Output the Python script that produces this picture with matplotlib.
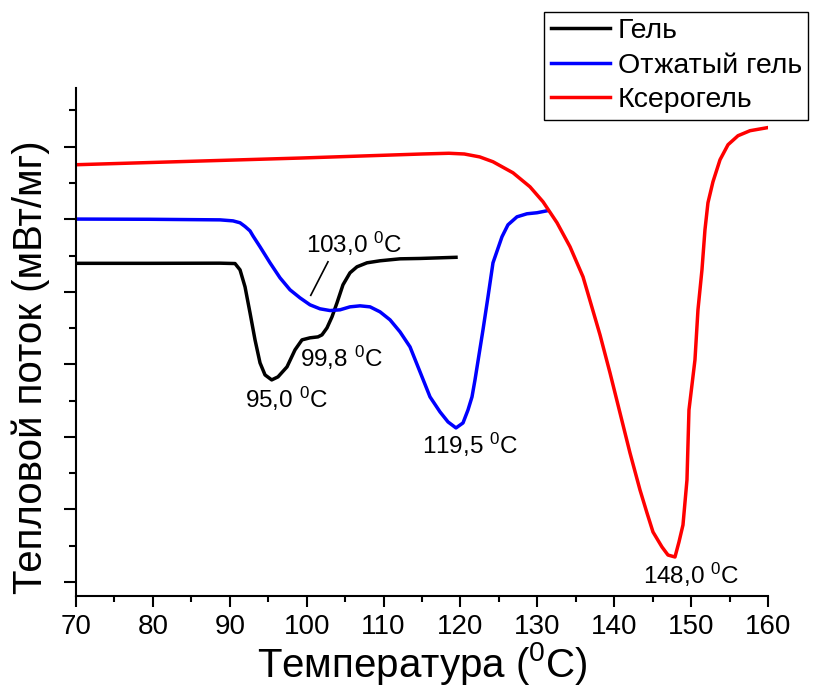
import numpy as np
import matplotlib.pyplot as plt
from matplotlib.ticker import MultipleLocator, NullFormatter

plt.rcParams['font.family'] = ['Liberation Sans', 'DejaVu Sans']
plt.rcParams['mathtext.fontset'] = 'custom'
plt.rcParams['mathtext.rm'] = 'Liberation Sans'
plt.rcParams['mathtext.it'] = 'Liberation Sans'
plt.rcParams['mathtext.default'] = 'rm'

# Гель
gel_x = [70.00, 79.62, 88.73, 90.68, 91.33, 91.98, 92.63, 93.28, 93.93, 94.58,
         95.45, 96.27, 97.44, 98.48, 99.39, 100.43, 101.47, 101.99, 102.64,
         103.29, 103.94, 104.72, 105.63, 106.54, 107.84, 109.54, 112.14, 114.74,
         119.42]
gel_y = [4.393, 4.393, 4.395, 4.390, 4.303, 4.069, 3.710, 3.338, 3.021, 2.855,
         2.786, 2.828, 2.966, 3.200, 3.338, 3.366, 3.379, 3.407, 3.503,
         3.655, 3.848, 4.097, 4.262, 4.345, 4.400, 4.428, 4.455, 4.460,
         4.476]

# Отжатый гель
pressed_x = [70.00, 79.62, 88.73, 90.42, 91.33, 91.98, 92.63, 93.02, 93.93, 95.23,
             96.53, 97.83, 99.13, 100.43, 101.73, 103.03, 104.33, 105.63, 106.94,
             108.24, 109.54, 110.84, 112.14, 113.44, 114.74, 116.04, 117.34,
             118.38, 119.42, 120.33, 120.98, 121.50, 121.89, 122.93, 123.58,
             124.23, 125.40, 126.18, 127.35, 128.65, 129.95, 131.25]
pressed_y = [5.003, 5.000, 4.992, 4.978, 4.952, 4.901, 4.840, 4.770, 4.621, 4.400,
             4.193, 4.028, 3.917, 3.821, 3.766, 3.742, 3.752, 3.793, 3.807,
             3.793, 3.724, 3.614, 3.448, 3.241, 2.897, 2.552, 2.345,
             2.207, 2.124, 2.193, 2.372, 2.552, 2.786, 3.476, 3.931,
             4.400, 4.759, 4.924, 5.034, 5.076, 5.090, 5.117]

# Ксерогель
xero_x = [70.00, 99.13, 110.19, 115.0, 118.5, 120.5, 122.5, 124.23, 126.83, 129.04,
          130.74, 132.56, 134.25, 135.94, 136.59, 138.15, 139.45, 140.75, 142.05,
          143.35, 144.26, 145.04, 146.21, 146.99, 147.90, 148.42, 148.94, 149.46,
          149.72, 150.50, 150.89, 151.41, 151.80, 152.19, 152.84, 153.76, 154.80,
          156.10, 157.66, 159.87]
xero_y = [5.752, 5.844, 5.883, 5.900, 5.910, 5.900, 5.860, 5.793, 5.641, 5.448,
          5.241, 4.952, 4.621, 4.207, 3.972, 3.407, 2.883, 2.331, 1.779,
          1.269, 0.952, 0.690, 0.483, 0.372, 0.345, 0.552, 0.786, 1.407,
          2.372, 3.062, 3.752, 4.303, 4.855, 5.228, 5.517, 5.821, 6.028,
          6.152, 6.221, 6.262]

labels = ['Гель', 'Отжатый гель', 'Ксерогель']
colors = ['black', '#0000ff', '#ff0000']

peak_texts = ['95,0 $^{0}$C', '99,8 $^{0}$C', '103,0 $^{0}$C', '119,5 $^{0}$C', '148,0 $^{0}$C']
peak_tx = [91.98, 99.13, 99.91, 115.0, 143.74]
peak_ty = [2.40, 2.966, 4.538, 1.766, -0.028]

fig = plt.figure(figsize=(8.14, 6.90), dpi=100)
ax = fig.add_axes([0.0934, 0.1362, 0.8501, 0.7363])

for xs, ys, lab, c in zip([gel_x, pressed_x, xero_x], [gel_y, pressed_y, xero_y], labels, colors):
    ax.plot(xs, ys, color=c, lw=2.5, label=lab)

for t, tx, ty in zip(peak_texts, peak_tx, peak_ty):
    ax.text(tx, ty, t, fontsize=17.5, ha='left', va='baseline')

# выноска к 103,0
ax.plot([102.77, 100.53], [4.414, 3.952], color='black', lw=1.2)

ax.set_xlim(70, 160)
ax.set_ylim(-0.193, 6.81)
ax.xaxis.set_major_locator(MultipleLocator(10))
ax.xaxis.set_minor_locator(MultipleLocator(5))
ax.yaxis.set_major_locator(MultipleLocator(1))
ax.yaxis.set_minor_locator(MultipleLocator(0.5))
ax.yaxis.set_major_formatter(NullFormatter())

for s in ['top', 'right']:
    ax.spines[s].set_visible(False)
for s in ['left', 'bottom']:
    ax.spines[s].set_linewidth(1.5)

ax.tick_params(axis='x', which='major', length=8, width=1.5, labelsize=20, pad=5)
ax.tick_params(axis='x', which='minor', length=4.5, width=1.5)
ax.tick_params(axis='y', which='major', length=9, width=1.5)
ax.tick_params(axis='y', which='minor', length=5, width=1.5)

ax.set_xlabel('Температура ($^{0}$C)', fontsize=29, labelpad=0)
ax.set_ylabel('Тепловой поток (мВт/мг)', fontsize=29)
ax.yaxis.set_label_coords(-0.037, 0.45)

leg = fig.legend(loc='upper right', bbox_to_anchor=(0.9926, 0.9826), fontsize=20.5,
                 frameon=True, fancybox=False, edgecolor='black', framealpha=1,
                 handlelength=2.07, handletextpad=0.28, borderpad=0.22,
                 labelspacing=0.3, borderaxespad=0)
leg.get_frame().set_linewidth(1.0)

fig.savefig('out.png', dpi=100)
